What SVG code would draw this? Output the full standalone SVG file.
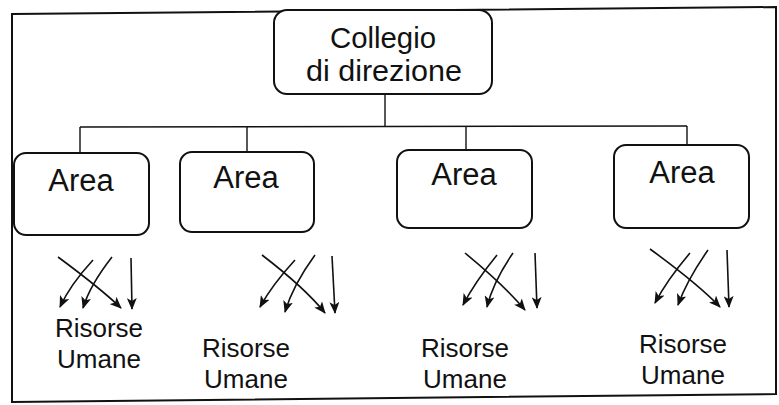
<svg xmlns="http://www.w3.org/2000/svg" width="779" height="405" viewBox="0 0 779 405">
<style>
  .box { fill: #ffffff; stroke: #111; stroke-width: 2; }
  .frame { fill: none; stroke: #111; stroke-width: 2; }
  .ln { fill: none; stroke: #111; stroke-width: 1.4; }
  .arr { fill: none; stroke: #111; stroke-width: 1.6; marker-end: url(#ah); }
  text { font-family: "Liberation Sans", Arial, sans-serif; fill: #111; text-anchor: middle; }
  .t1 { font-size: 29px; }
  .t2 { font-size: 31px; }
  .t3 { font-size: 26px; }
</style>
<defs>
  <marker id="ah" viewBox="0 0 12 10" refX="11" refY="5" markerWidth="12" markerHeight="10" markerUnits="userSpaceOnUse" orient="auto">
    <path d="M0,0 L12,5 L0,10 L3,5 z" fill="#111"/>
  </marker>
</defs>
<rect width="779" height="405" fill="#ffffff"/>
<path class="frame" d="M12,14 L776,7 L776,394 L12,402 Z"/>

<g id="connectors">
  <path class="ln" d="M385,93 L385,127"/>
  <path class="ln" d="M80,127 L687,126"/>
  <path class="ln" d="M80,127 L80,153"/>
  <path class="ln" d="M247,127 L247,152"/>
  <path class="ln" d="M466,127 L466,150"/>
  <path class="ln" d="M687,126 L687,145"/>

  <path class="arr" d="M58,257 Q100,288 121,308"/>
  <path class="arr" d="M93,260 Q70,285 60,307"/>
  <path class="arr" d="M112,257 Q90,285 83,308"/>
  <path class="arr" d="M131,258 L132,309"/>

  <path class="arr" d="M262,255 Q305,288 325,313"/>
  <path class="arr" d="M295,260 Q272,285 260,307"/>
  <path class="arr" d="M315,255 Q293,285 285,312"/>
  <path class="arr" d="M332,256 L335,313"/>

  <path class="arr" d="M465,253 Q505,286 525,310"/>
  <path class="arr" d="M497,255 Q475,282 463,305"/>
  <path class="arr" d="M513,253 Q493,282 487,307"/>
  <path class="arr" d="M535,253 L537,308"/>

  <path class="arr" d="M650,249 Q698,284 720,307"/>
  <path class="arr" d="M690,253 Q667,280 655,303"/>
  <path class="arr" d="M708,250 Q687,280 678,305"/>
  <path class="arr" d="M727,250 L729,307"/>
</g>

<g id="collegio">
  <rect class="box" x="274" y="10" width="218" height="84" rx="13"/>
  <text class="t1" x="383" y="48" textLength="106" lengthAdjust="spacingAndGlyphs">Collegio</text>
  <text class="t1" x="384" y="81" textLength="156" lengthAdjust="spacingAndGlyphs">di direzione</text>
</g>

<g id="area1">
  <rect class="box" x="14" y="153" width="135" height="82" rx="12"/>
  <text class="t2" x="81" y="191">Area</text>
</g>
<g id="area2">
  <rect class="box" x="180" y="152" width="134" height="80" rx="12"/>
  <text class="t2" x="246" y="188">Area</text>
</g>
<g id="area3">
  <rect class="box" x="397" y="150" width="135" height="78" rx="12"/>
  <text class="t2" x="464" y="185">Area</text>
</g>
<g id="area4">
  <rect class="box" x="614" y="145" width="135" height="83" rx="12"/>
  <text class="t2" x="682" y="183">Area</text>
</g>

<g id="risorse1">
  <text class="t3" x="99" y="337">Risorse</text>
  <text class="t3" x="99" y="368">Umane</text>
</g>
<g id="risorse2">
  <text class="t3" x="246" y="357">Risorse</text>
  <text class="t3" x="246" y="388">Umane</text>
</g>
<g id="risorse3">
  <text class="t3" x="465" y="357">Risorse</text>
  <text class="t3" x="465" y="388">Umane</text>
</g>
<g id="risorse4">
  <text class="t3" x="683" y="353">Risorse</text>
  <text class="t3" x="683" y="384">Umane</text>
</g>
</svg>
